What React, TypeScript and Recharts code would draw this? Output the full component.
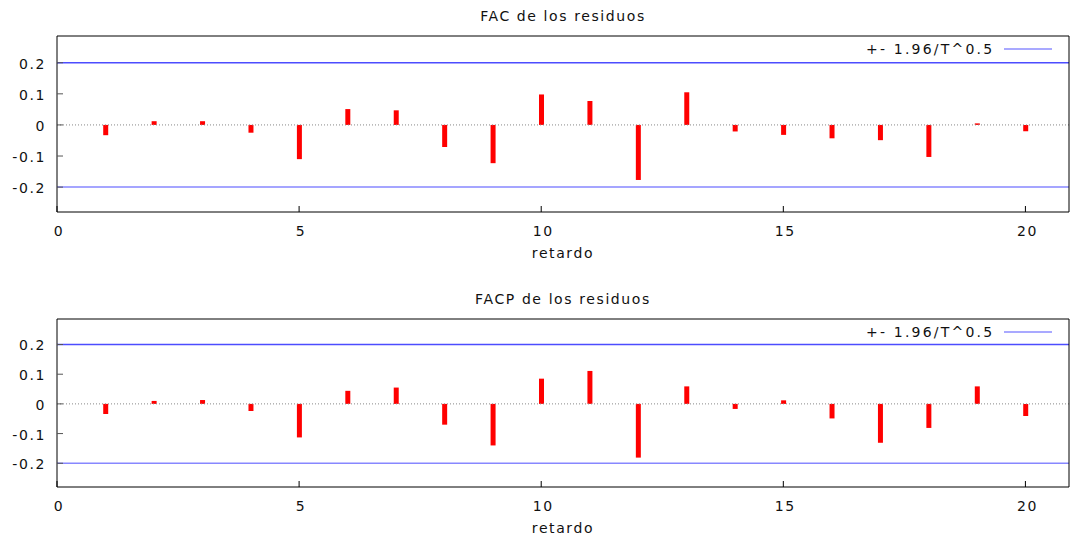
import { ComposedChart, Bar, XAxis, YAxis, ReferenceLine, Legend, Label } from "recharts";

const LAGS = [1, 2, 3, 4, 5, 6, 7, 8, 9, 10, 11, 12, 13, 14, 15, 16, 17, 18, 19, 20];
const FAC = [-0.033, 0.012, 0.012, -0.025, -0.11, 0.051, 0.047, -0.071, -0.123, 0.098, 0.077, -0.177, 0.105, -0.021, -0.032, -0.043, -0.049, -0.103, 0.005, -0.02];
const FACP = [-0.034, 0.01, 0.013, -0.024, -0.113, 0.044, 0.055, -0.07, -0.14, 0.085, 0.111, -0.181, 0.059, -0.017, 0.012, -0.049, -0.131, -0.081, 0.059, -0.041];
const BAND = 0.2;
const X_TICKS = [0, 5, 10, 15, 20];
const Y_TICKS = [-0.2, -0.1, 0, 0.1, 0.2];
const LEGEND_LABEL = "+- 1.96/T^0.5";

const X_DOMAIN: [number, number] = [0, 20.9];
const Y_DOMAIN: [number, number] = [-0.28, 0.286];

const font = { fontFamily: "DejaVu Sans", fontSize: 14, letterSpacing: 1.6, fill: "#111" };

function BandLegend() {
  return (
    <div style={{ display: "flex", alignItems: "center", height: 20, fontFamily: "DejaVu Sans", fontSize: 14, letterSpacing: 2.2, color: "#111" }}>
      <span>{LEGEND_LABEL}</span>
      <svg width={62} height={20} style={{ marginLeft: 8 }}>
        <line x1={2} x2={50} y1={10} y2={10} stroke="#8c8cff" strokeWidth={1.5} />
      </svg>
    </div>
  );
}

function Panel({ title, values, height }: { title: string; values: number[]; height: number }) {
  const data = LAGS.map((lag, i) => ({ lag, v: values[i] }));
  return (
    <ComposedChart width={1071} height={height} data={data} margin={{ top: 35, right: 0, bottom: 0, left: 0 }}>
      <XAxis
        dataKey="lag"
        type="number"
        domain={X_DOMAIN}
        ticks={X_TICKS}
        height={58}
        axisLine={{ stroke: "#000" }}
        tickLine={{ stroke: "#000" }}
        tickSize={-6}
        tickMargin={20}
        tick={{ ...font, dx: 2 }}
      >
        <Label value="retardo" position="insideBottom" offset={12} style={font} />
      </XAxis>
      {/* mirrored top / right axes close the frame, gnuplot style */}
      <XAxis
        xAxisId="top"
        orientation="top"
        dataKey="lag"
        type="number"
        domain={X_DOMAIN}
        ticks={X_TICKS}
        height={1}
        axisLine={{ stroke: "#000" }}
        tickLine={{ stroke: "#000" }}
        tickSize={-6}
        tick={false}
      >
        <Label value={title} position="top" offset={14} style={font} />
      </XAxis>
      <YAxis
        type="number"
        domain={Y_DOMAIN}
        ticks={Y_TICKS}
        width={57}
        axisLine={{ stroke: "#000" }}
        tickLine={{ stroke: "#555" }}
        tickSize={-6}
        tickMargin={17}
        tickFormatter={(v: number) => (v === 0 ? "0" : v.toFixed(1))}
        tick={{ ...font, dy: 1 }}
      />
      <YAxis
        yAxisId="right"
        orientation="right"
        type="number"
        domain={Y_DOMAIN}
        ticks={Y_TICKS}
        width={2}
        axisLine={{ stroke: "#000" }}
        tickLine={{ stroke: "#555" }}
        tickSize={-6}
        tick={false}
      />
      <ReferenceLine xAxisId="top" yAxisId="right" y={0} stroke="#888" strokeDasharray="1 2" />
      <ReferenceLine y={0} stroke="#888" strokeDasharray="1 2" />
      <ReferenceLine y={BAND} stroke="#4d4dff" strokeWidth={1.5} />
      <ReferenceLine y={-BAND} stroke="#8787ff" strokeWidth={1.5} />
      <Bar dataKey="v" fill="#ff0000" barSize={5} isAnimationActive={false} />
      <Legend
        layout="vertical"
        align="center"
        verticalAlign="middle"
        content={() => <BandLegend />}
        wrapperStyle={{ position: "absolute", left: 866, top: 39, width: 205, height: 20 }}
      />
    </ComposedChart>
  );
}

export default function App() {
  return (
    <div style={{ position: "absolute", top: 0, left: 0, width: 1071, height: 545, background: "#fff" }}>
      <div style={{ position: "absolute", top: 0, left: 0 }}>
        <Panel title="FAC de los residuos" values={FAC} height={270} />
      </div>
      <div style={{ position: "absolute", top: 283, left: 0 }}>
        <Panel title="FACP de los residuos" values={FACP} height={262} />
      </div>
    </div>
  );
}
